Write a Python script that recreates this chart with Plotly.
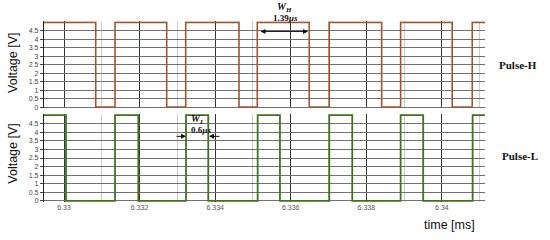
import plotly.graph_objects as go

# ---- data (time in ms, voltage in V) ----
h_times = [6.32947, 6.330839, 6.331349, 6.332717, 6.333220, 6.334630, 6.335114,
           6.336489, 6.337019, 6.338405, 6.338907, 6.340272, 6.340802, 6.34114]
h_volts = [5, 0, 5, 0, 5, 0, 5, 0, 5, 0, 5, 0, 5, 5]

l_times = [6.32947, 6.330053, 6.331349, 6.331966, 6.333228, 6.333817, 6.335124,
           6.335714, 6.337019, 6.337627, 6.338907, 6.339505, 6.340812, 6.34114]
l_volts = [5, 0, 5, 0, 5, 0, 5, 0, 5, 0, 5, 0, 5, 5]

x_ticks = [6.33, 6.332, 6.334, 6.336, 6.338, 6.34]
x_tick_text = ["6.33", "6.332", "6.334", "6.336", "6.338", "6.34"]
y_ticks = [0, 0.5, 1, 1.5, 2, 2.5, 3, 3.5, 4, 4.5]
y_tick_text = ["0", "0.5", "1", "1.5", "2", "2.5", "3", "3.5", "4", "4.5"]

x_range = [6.32947, 6.34114]
y_range = [-0.06, 5.06]

W, H = 550, 240
ML, MR, MT, MB = 44, 65, 0, 0
PW, PH = W - ML - MR, H - MT - MB


def px(x):
    return (x - ML) / PW


def py(y):
    return (H - MB - y) / PH


fig = go.Figure()
fig.add_trace(go.Scatter(x=h_times, y=h_volts, mode="lines", line_shape="hv",
                         line=dict(color="#a3552f", width=1.6), xaxis="x", yaxis="y",
                         showlegend=False, hoverinfo="skip"))
fig.add_trace(go.Scatter(x=l_times, y=l_volts, mode="lines", line_shape="hv",
                         line=dict(color="#3f7321", width=1.8), xaxis="x2", yaxis="y2",
                         showlegend=False, hoverinfo="skip"))

xcommon = dict(range=x_range, tickvals=x_ticks, showgrid=True, gridcolor="#333333",
               gridwidth=1, zeroline=False, showline=False, ticks="",
               minor=dict(dtick=0.001, tick0=6.33, showgrid=True, gridcolor="#cccccc", gridwidth=1))
ycommon = dict(range=y_range, tickvals=y_ticks, ticktext=y_tick_text, showgrid=True,
               gridcolor="#707070", gridwidth=1, zeroline=False, showline=True,
               linecolor="#222222", linewidth=1.2, ticks="outside", ticklen=3,
               tickcolor="#444444", tickfont=dict(size=7, color="#444444", family="Arial"))

fig.update_layout(
    width=W, height=H,
    margin=dict(l=ML, r=MR, t=MT, b=MB),
    paper_bgcolor="white", plot_bgcolor="white",
    xaxis=dict(**xcommon, anchor="y", showticklabels=False, domain=[0, 1]),
    yaxis=dict(**ycommon, domain=[py(109), py(21.5)]),
    xaxis2=dict(**xcommon, anchor="y2", showticklabels=True, ticktext=x_tick_text,
                tickfont=dict(size=7, color="#555555", family="Arial"), domain=[0, 1]),
    yaxis2=dict(**ycommon, domain=[py(203.7), py(115)]),
)

serif = "Liberation Serif"
anns = [
    dict(x=13, y=63.5, text="Voltage [V]", textangle=-90, font=dict(size=12.5, family="Arial", color="#111")),
    dict(x=13, y=155, text="Voltage [V]", textangle=-90, font=dict(size=12.5, family="Arial", color="#111")),
    dict(x=518, y=66, text="<b>Pulse-H</b>", font=dict(size=11, family=serif, color="#111")),
    dict(x=520, y=157, text="<b>Pulse-L</b>", font=dict(size=11, family=serif, color="#111")),
    dict(x=449, y=227, text="time [ms]", font=dict(size=12.5, family="Arial", color="#111")),
    dict(x=284, y=8, text="<b><i>W</i></b><sub><b><i>H</i></b></sub>", font=dict(size=10, family=serif, color="#111")),
    dict(x=285, y=18.5, text="<b>1.39<i>µs</i></b>", font=dict(size=9, family=serif, color="#111")),
    dict(x=197, y=121, text="<b><i>W</i></b><sub><b><i>L</i></b></sub>", font=dict(size=10, family=serif, color="#111")),
    dict(x=201, y=131, text="<b>0.6<i>µs</i></b>", font=dict(size=9, family=serif, color="#111")),
]
for a in anns:
    fig.add_annotation(x=px(a["x"]), y=py(a["y"]), xref="paper", yref="paper",
                       text=a["text"], showarrow=False, font=a["font"],
                       textangle=a.get("textangle", 0), xanchor="center", yanchor="middle")


# arrows: head at x_head (pixels), tail offset in pixels
def arrow(x_tail, x_head, y, side):
    fig.add_annotation(x=px(x_head), y=py(y), ax=x_tail - x_head, ay=0,
                       xref="paper", yref="paper", axref="pixel", ayref="pixel",
                       text="", showarrow=True, arrowhead=2, arrowsize=1, arrowwidth=1,
                       arrowcolor="#111", arrowside=side)


arrow(259, 308, 31.7, "end+start")
arrow(175, 186, 137.5, "end")
arrow(221, 209, 137.5, "end")

fig.write_html("out.html", config={"displayModeBar": False},
               post_script="document.body.style.margin='0';")
